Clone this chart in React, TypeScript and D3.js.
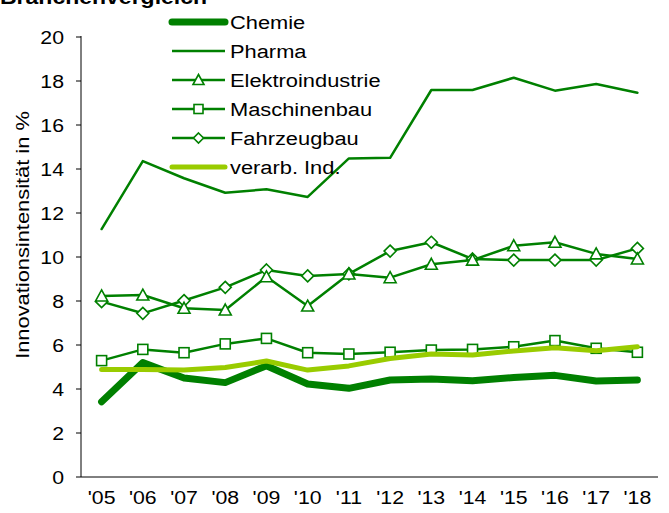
import React from "react";
import * as d3 from "d3";

const years = ["'05", "'06", "'07", "'08", "'09", "'10", "'11", "'12", "'13", "'14", "'15", "'16", "'17", "'18"];
const yTicks = [0, 2, 4, 6, 8, 10, 12, 14, 16, 18, 20];

const chemie = [3.42, 5.2, 4.5, 4.29, 5.06, 4.23, 4.03, 4.41, 4.45, 4.38, 4.52, 4.62, 4.36, 4.41];
const pharma = [11.27, 14.36, 13.58, 12.92, 13.08, 12.73, 14.48, 14.51, 17.59, 17.59, 18.15, 17.56, 17.86, 17.47];
const elektro = [8.23, 8.27, 7.67, 7.59, 9.1, 7.77, 9.23, 9.06, 9.67, 9.86, 10.51, 10.67, 10.14, 9.91];
const maschinen = [5.29, 5.8, 5.65, 6.05, 6.3, 5.65, 5.59, 5.67, 5.77, 5.8, 5.92, 6.2, 5.85, 5.67];
const fahrzeug = [7.97, 7.44, 8.02, 8.62, 9.41, 9.14, 9.23, 10.27, 10.67, 9.91, 9.86, 9.86, 9.86, 10.39];
const verarb = [4.89, 4.89, 4.86, 4.98, 5.27, 4.86, 5.05, 5.39, 5.59, 5.55, 5.73, 5.88, 5.74, 5.92];

const DARK = "#008000";
const LIGHT = "#99CC00";
const FONT = "'Liberation Sans', Arial, sans-serif";
const SX = 1.15;

type Series = { name: string; values: number[]; color: string; width: number; marker: "none" | "triangle" | "square" | "diamond" };

const series: Series[] = [
  { name: "Chemie", values: chemie, color: DARK, width: 7, marker: "none" },
  { name: "Pharma", values: pharma, color: DARK, width: 2.5, marker: "none" },
  { name: "Elektroindustrie", values: elektro, color: DARK, width: 2.5, marker: "triangle" },
  { name: "Maschinenbau", values: maschinen, color: DARK, width: 2.5, marker: "square" },
  { name: "Fahrzeugbau", values: fahrzeug, color: DARK, width: 2.5, marker: "diamond" },
  { name: "verarb. Ind.", values: verarb, color: LIGHT, width: 5, marker: "none" },
];

const drawOrder = [1, 4, 2, 3, 0, 5];

function T({ x, y, size, anchor = "start", weight = "normal", rotate = 0, children }: any) {
  return (
    <g transform={`translate(${x},${y}) rotate(${rotate}) scale(${SX},1)`}>
      <text x={0} y={0} textAnchor={anchor} fontSize={size} fontWeight={weight} fill="#000">{children}</text>
    </g>
  );
}

function Marker({ type, x, y, size }: { type: string; x: number; y: number; size: number }) {
  const h = size / 2;
  if (type === "square") {
    return <rect x={x - h} y={y - h} width={size} height={size} fill="#fff" stroke={DARK} strokeWidth={1.6} />;
  }
  if (type === "triangle") {
    const pts = `${x},${y - h - 1} ${x + h + 1},${y + h} ${x - h - 1},${y + h}`;
    return <polygon points={pts} fill="#fff" stroke={DARK} strokeWidth={1.6} />;
  }
  if (type === "diamond") {
    const pts = `${x},${y - h} ${x + h},${y} ${x},${y + h} ${x - h},${y}`;
    return <polygon points={pts} fill="#fff" stroke={DARK} strokeWidth={1.6} />;
  }
  return null;
}

export default function App() {
  const W = 669, H = 513;
  const left = 81, right = 658, top = 37, bottom = 477;
  const x = d3.scaleBand<string>().domain(years).range([left, right]);
  const y = d3.scaleLinear().domain([0, 20]).range([bottom, top]);
  const cx = (i: number) => (x(years[i]) as number) + x.bandwidth() / 2;
  const line = d3.line<number>().x((_, i) => cx(i)).y((d) => y(d));

  return (
    <svg width={W} height={H} style={{ position: "absolute", left: 0, top: 0, background: "#fff" }} fontFamily={FONT}>
      <T x={0} y={4} size={20} weight="bold">Branchenvergleich</T>

      {/* axes */}
      <line x1={left} y1={top - 1} x2={left} y2={bottom} stroke="#000" strokeWidth={1} />
      <line x1={left} y1={bottom} x2={right} y2={bottom} stroke="#000" strokeWidth={1} />
      {yTicks.map((t) => (
        <g key={t}>
          <line x1={left - 5} x2={left} y1={y(t)} y2={y(t)} stroke="#000" strokeWidth={1} />
          <T x={64} y={y(t) + 6.5} size={18.5} anchor="end">{t}</T>
        </g>
      ))}
      {years.map((yr, i) => (
        <T key={yr} x={cx(i)} y={504} size={18.5} anchor="middle">{yr}</T>
      ))}
      <T x={29} y={235} size={19} anchor="middle" rotate={-90}>Innovationsintensität in %</T>

      {/* series */}
      {drawOrder.map((si) => {
        const s = series[si];
        return (
          <g key={s.name}>
            <path d={line(s.values) || ""} fill="none" stroke={s.color} strokeWidth={s.width} strokeLinejoin="round" strokeLinecap="round" />
            {s.marker !== "none" &&
              s.values.map((v, i) => <Marker key={i} type={s.marker} x={cx(i)} y={y(v)} size={s.marker === "diamond" ? 12 : 10} />)}
          </g>
        );
      })}

      {/* legend */}
      {series.map((s, i) => {
        const ly = 22 + i * 29;
        return (
          <g key={s.name}>
            <line x1={172} x2={225} y1={ly} y2={ly} stroke={s.color} strokeWidth={s.width} strokeLinecap={s.width > 4 ? "round" : "butt"} />
            {s.marker !== "none" && <Marker type={s.marker} x={198.5} y={ly} size={s.marker === "diamond" ? 10 : 9} />}
            <T x={230} y={ly + 7} size={19}>{s.name}</T>
          </g>
        );
      })}
    </svg>
  );
}
